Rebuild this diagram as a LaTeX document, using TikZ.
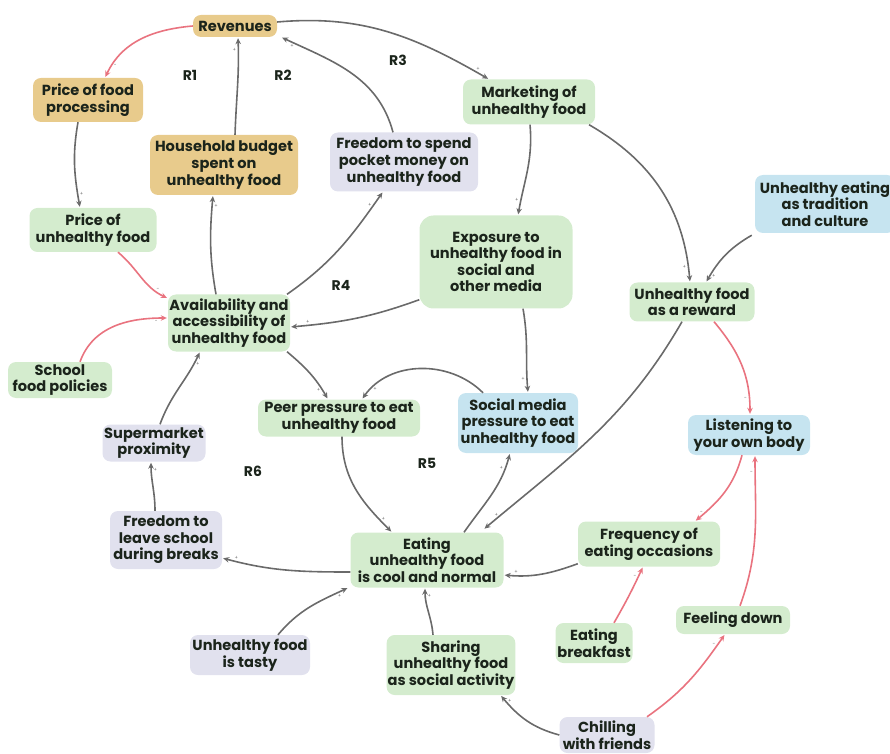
\documentclass[tikz,border=0pt]{standalone}
\usepackage{fontspec}
\setmainfont{Poppins}
\usetikzlibrary{arrows.meta}
\definecolor{gfill}{HTML}{D4ECCE}
\definecolor{tfill}{HTML}{E8CB8C}
\definecolor{lfill}{HTML}{E1E1EE}
\definecolor{bfill}{HTML}{C6E4F0}
\definecolor{txt}{HTML}{1B241B}
\definecolor{lgrey}{HTML}{6A6A6A}
\definecolor{lred}{HTML}{E9737F}
\begin{document}
\begin{tikzpicture}[x=1pt,y=1pt,
  box/.style={rounded corners=8pt, align=center, text=txt, inner sep=1pt,
    font=\bfseries\fontsize{14.6}{16.6}\selectfont},
  sz/.style 2 args={minimum width=#1, minimum height=#2},
  grn/.style={box, fill=gfill},
  tan/.style={box, fill=tfill},
  lav/.style={box, fill=lfill},
  blu/.style={box, fill=bfill},
  loop/.style={text=txt, font=\bfseries\fontsize{14}{16}\selectfont},
  lnk/.style={-{Stealth[length=6pt,width=5.5pt]}, line width=1.6pt, draw=lgrey, shorten >=1pt},
  neg/.style={lnk, draw=lred},
  pol/.style={font=\fontsize{5}{5}\selectfont, text=lgrey, inner sep=1.5pt},
]
\useasboundingbox (0,0) rectangle (890,753);

% ---- variables ----
\node[tan, sz={84}{22}]  (rev)   at (235,727) {Revenues};
\node[tan, sz={110}{44}] (pfp)   at (88,653)  {Price of food\\processing};
\node[tan, sz={148}{60}] (hb)    at (224,588) {Household budget\\spent on\\unhealthy food};
\node[lav, sz={148}{59}] (fsp)   at (404,591) {Freedom to spend\\pocket money on\\unhealthy food};
\node[grn, sz={132}{45}] (mkt)   at (529,651) {Marketing of\\unhealthy food};
\node[grn, sz={127}{44}] (pu)    at (93,523)  {Price of\\unhealthy food};
\node[grn, sz={153}{93}, rounded corners=14pt] (exp) at (496,491) {Exposure to\\unhealthy food in\\social and\\other media};
\node[blu, sz={140}{58}] (trad)  at (825,549) {Unhealthy eating\\as tradition\\and culture};
\node[grn, sz={125}{39}] (rew)   at (692,451) {Unhealthy food\\as a reward};
\node[grn, sz={122}{57}] (avail) at (229,430) {Availability and\\accessibility of\\unhealthy food};
\node[grn, sz={104}{36}] (sfp)   at (60,373)  {School\\food policies};
\node[grn, sz={162}{37}] (peer)  at (339,335) {Peer pressure to eat\\unhealthy food};
\node[blu, sz={120}{60}] (smp)   at (518,330) {Social media\\pressure to eat\\unhealthy food};
\node[blu, sz={122}{40}] (lis)   at (749,318) {Listening to\\your own body};
\node[lav, sz={103}{37}] (sup)   at (154,310) {Supermarket\\proximity};
\node[lav, sz={112}{58}] (fls)   at (166,213) {Freedom to\\leave school\\during breaks};
\node[grn, sz={153}{55}] (cool)  at (427,193) {Eating\\unhealthy food\\is cool and normal};
\node[grn, sz={142}{45}] (freq)  at (649,209) {Frequency of\\eating occasions};
\node[lav, sz={120}{40}] (tasty) at (250,98)  {Unhealthy food\\is tasty};
\node[grn, sz={127}{60}] (share) at (451,88)  {Sharing\\unhealthy food\\as social activity};
\node[grn, sz={77}{40}]  (bfast) at (594,110) {Eating\\breakfast};
\node[grn, sz={114}{28}] (down)  at (733,133) {Feeling down};
\node[lav, sz={95}{36}]  (chill) at (607,18)  {Chilling\\with friends};

% ---- loop labels ----
\node[loop] (r1) at (190,678) {R1};
\node[loop] (r2) at (283,678) {R2};
\node[loop] (r3) at (398,693) {R3};
\node[loop] (r4) at (341,468) {R4};
\node[loop] (r5) at (427,290) {R5};
\node[loop] (r6) at (253,282) {R6};

% ---- links ----
\draw[neg] (rev.west) to[out=185,in=65] node[pol,pos=0.88,right]{-} ([xshift=17pt]pfp.north);
\draw[lnk] ([xshift=-10pt]pfp.south) to[out=-100,in=100] node[pol,pos=0.85,right]{+} ([xshift=-13pt]pu.north);
\draw[neg] ([xshift=25pt]pu.south) to[out=-40,in=155] node[pol,pos=0.85,above]{-} ([yshift=-4pt]avail.north west);
\draw[neg] ([xshift=20pt]sfp.north) to[out=70,in=180] node[pol,pos=0.9,below]{-} ([yshift=5pt]avail.west);
\draw[lnk] ([xshift=-13pt]avail.north) to[out=100,in=-95] node[pol,pos=0.9,right]{+} ([xshift=-11pt]hb.south);
\draw[lnk] ([xshift=11pt]hb.north) to[out=88,in=-88] node[pol,pos=0.88,left]{+} ([xshift=3pt]rev.south);
\draw[lnk] ([xshift=58pt]avail.north) to[out=35,in=-125] node[pol,pos=0.9,left]{+} ([xshift=-21pt]fsp.south);
\draw[lnk] ([xshift=-11pt]fsp.north) to[out=105,in=-25] node[pol,pos=0.93,below]{+} ([xshift=4pt]rev.south east);
\draw[lnk] ([yshift=4pt]rev.east) to[out=5,in=150] node[pol,pos=0.95,above]{+} ([xshift=-40pt]mkt.north);
\draw[lnk] ([xshift=1pt]mkt.south) to[out=-85,in=80] node[pol,pos=0.85,left]{+} ([xshift=22pt]exp.north);
\draw[lnk] ([xshift=60pt]mkt.south) to[out=-30,in=95] node[pol,pos=0.93,left]{+} ([xshift=-2pt]rew.north);
\draw[lnk] ([xshift=-3pt,yshift=-2pt]trad.south west) to[out=210,in=60] node[pol,pos=0.9,right]{+} ([xshift=14pt]rew.north);
\draw[lnk] ([yshift=9pt]exp.south west) to[out=200,in=5] node[pol,pos=0.88,above]{+} ([yshift=-4pt]avail.east);
\draw[lnk] ([xshift=27pt]exp.south) to[out=-80,in=95] node[pol,pos=0.85,left]{+} ([xshift=10pt]smp.north);
\draw[lnk] ([xshift=58pt]avail.south) to[out=-40,in=120] node[pol,pos=0.85,left]{+} ([xshift=-11pt]peer.north);
\draw[lnk] ([xshift=-35pt]smp.north) to[out=135,in=55] node[pol,pos=0.9,right]{+} ([xshift=23pt]peer.north);
\draw[lnk] ([xshift=3pt]peer.south) to[out=-90,in=135] node[pol,pos=0.85,right]{+} ([xshift=-35pt]cool.north);
\draw[lnk] ([xshift=37pt]cool.north) to[out=55,in=-105] node[pol,pos=0.85,left]{+} ([xshift=-8pt]smp.south);
\draw[lnk] ([xshift=-10pt]rew.south) to[out=-120,in=40] node[pol,pos=0.95,above]{+} ([xshift=-20pt,yshift=3pt]cool.north east);
\draw[neg] ([xshift=22pt]rew.south) to[out=-50,in=90] node[pol,pos=0.85,left]{-} ([xshift=1pt]lis.north);
\draw[neg] ([xshift=-7pt]lis.south) to[out=-105,in=40] node[pol,pos=0.85,left]{-} ([xshift=46pt]freq.north);
\draw[neg] ([xshift=7pt]down.north) to[out=70,in=-90] node[pol,pos=0.9,left]{-} ([xshift=6pt]lis.south);
\draw[lnk] ([yshift=3pt]freq.south west) to[out=200,in=-5] node[pol,pos=0.85,above]{+} ([yshift=-15pt]cool.east);
\draw[neg] ([xshift=20pt]bfast.north) to[out=60,in=-115] node[pol,pos=0.85,left]{-} ([xshift=-6pt]freq.south);
\draw[neg] ([xshift=40pt]chill.north) to[out=35,in=-125] node[pol,pos=0.9,left]{-} ([xshift=-8pt]down.south);
\draw[lnk] (chill.west) to[out=165,in=-50] node[pol,pos=0.9,right]{+} ([xshift=-15pt]share.south east);
\draw[lnk] ([xshift=-18pt]share.north) to[out=95,in=-90] node[pol,pos=0.85,right]{+} ([xshift=-2pt]cool.south);
\draw[lnk] ([xshift=28pt]tasty.north) to[out=50,in=205] node[pol,pos=0.9,below]{+} ([xshift=-2pt]cool.south west);
\draw[lnk] ([yshift=-12pt]cool.west) to[out=180,in=-15] node[pol,pos=0.9,above]{+} ([yshift=-18pt]fls.east);
\draw[lnk] ([xshift=-11pt]fls.north) to[out=90,in=-90] node[pol,pos=0.85,right]{+} ([xshift=-3pt]sup.south);
\draw[lnk] ([xshift=6pt]sup.north) to[out=70,in=-115] node[pol,pos=0.85,right]{+} ([xshift=-29pt]avail.south);
\end{tikzpicture}
\end{document}
